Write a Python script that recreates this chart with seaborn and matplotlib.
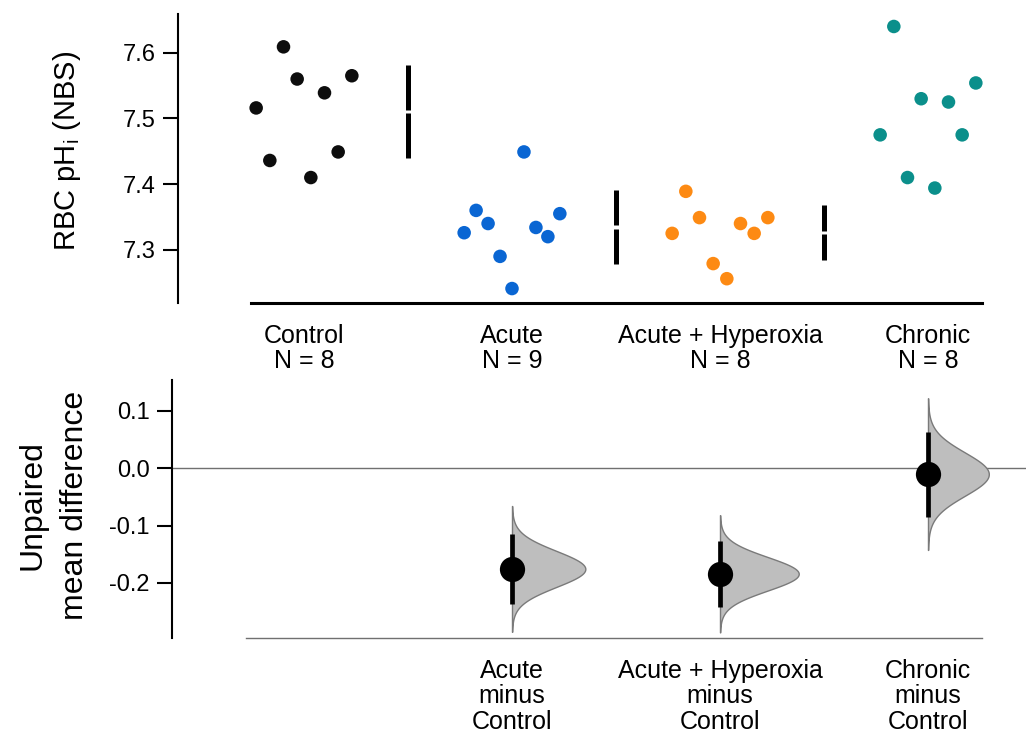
import numpy as np
import pandas as pd
import matplotlib
matplotlib.use("Agg")
import matplotlib.pyplot as plt
import seaborn as sns

# ---- data -------------------------------------------------------------
groups = ["Control", "Acute", "Acute + Hyperoxia", "Chronic"]
palette = ["#0d0d0d", "#0a66d3", "#fd8a13", "#0b8f8b"]

# RBC intracellular pH for each animal (listed in plotting order)
control = [7.516, 7.436, 7.609, 7.560, 7.410, 7.539, 7.449, 7.565]
acute = [7.326, 7.360, 7.340, 7.290, 7.241, 7.449, 7.334, 7.320, 7.355]
acute_hyperoxia = [7.325, 7.389, 7.349, 7.279, 7.256, 7.340, 7.325, 7.349]
chronic = [7.475, 7.640, 7.410, 7.530, 7.394, 7.525, 7.475, 7.554]

ph_ticks = [7.3, 7.4, 7.5, 7.6]
diff_ticks = [-0.2, -0.1, 0.0, 0.1]

series = [control, acute, acute_hyperoxia, chronic]

# ---- style ------------------------------------------------------------
sns.set_theme(style="white")
plt.rcParams["font.family"] = ["Liberation Sans", "DejaVu Sans"]
plt.rcParams["axes.unicode_minus"] = False
plt.rcParams["mathtext.default"] = "regular"
plt.rcParams["text.color"] = "black"
plt.rcParams["xtick.color"] = "black"
plt.rcParams["ytick.color"] = "black"

W, H = 1026, 740
fig = plt.figure(figsize=(W / 100, H / 100), dpi=100)

# axes placed in pixel terms of the figure
ax1 = fig.add_axes([178 / W, 1 - 303 / H, (W - 178) / W, (303 - 14) / H])
ax2 = fig.add_axes([172 / W, 1 - 638 / H, (W - 172) / W, (638 - 380) / H])

unit = 208.0  # pixels per category step
x0 = 304.0    # pixel position of the first category
ax1.set_xlim((178 - x0) / unit, (W - x0) / unit)
ax2.set_xlim((172 - x0) / unit, (W - x0) / unit)
ax1.set_ylim(7.219, 7.659)
ax2.set_ylim(-0.296, 0.154)

# ---- raw data swarm ---------------------------------------------------
rows = []
for i, (g, vals) in enumerate(zip(groups, series)):
    offs = np.linspace(-0.23, 0.23, len(vals))
    for o, v in zip(offs, vals):
        rows.append({"group": g, "x": i + o, "value": v})
raw = pd.DataFrame(rows)

sns.scatterplot(data=raw, x="x", y="value", hue="group", hue_order=groups,
                palette=palette, s=95, linewidth=0, legend=False, ax=ax1,
                zorder=3)

# mean +/- SD bars with a small gap at the mean
gap = 0.0028
for i, vals in enumerate(series):
    m = np.mean(vals)
    sd = np.std(vals, ddof=1)
    ax1.vlines([i + 0.5, i + 0.5], [m - sd, m + gap], [m - gap, m + sd],
               color="black", lw=3.6, clip_on=True)

# ---- effect sizes -----------------------------------------------------
ctrl_m = np.mean(control)
ctrl_v = np.var(control, ddof=1) / len(control)
eff_rows = []
k = 0.0277
for i in range(1, 4):
    vals = series[i]
    d = np.mean(vals) - ctrl_m
    se = np.sqrt(ctrl_v + np.var(vals, ddof=1) / len(vals))
    yy = np.linspace(d - 3.5 * se, d + 3.5 * se, 400)
    pdf = np.exp(-0.5 * ((yy - d) / se) ** 2) / (se * np.sqrt(2 * np.pi))
    ax2.fill_betweenx(yy, i, i + pdf * k, facecolor="#bebebe",
                      edgecolor="#7a7a7a", lw=1.0, zorder=2)
    ax2.vlines(i, d - 1.96 * se, d + 1.96 * se, color="black", lw=3.4,
               zorder=3)
    eff_rows.append({"x": i, "diff": d})
eff = pd.DataFrame(eff_rows)
sns.scatterplot(data=eff, x="x", y="diff", color="black", s=330,
                linewidth=0, legend=False, ax=ax2, zorder=4)

ax2.axhline(0, color="#707070", lw=1.0, zorder=1)

# ---- axes cosmetics ---------------------------------------------------
for ax in (ax1, ax2):
    ax.set_facecolor("none")
    ax.spines["top"].set_visible(False)
    ax.spines["right"].set_visible(False)
    ax.spines["left"].set_color("black")
    ax.spines["left"].set_linewidth(1.5)
    ax.set_xlabel("")
    ax.set_ylabel("")
    ax.tick_params(axis="y", length=11, width=1.5, pad=5, labelsize=17,
                   colors="black", left=True)
    ax.tick_params(axis="x", length=0, pad=15, labelsize=18, colors="black")

ax1.spines["bottom"].set_color("black")
ax1.spines["bottom"].set_linewidth(2.2)
ax1.spines["bottom"].set_bounds(-0.255, 3.26)
ax2.spines["bottom"].set_color("#707070")
ax2.spines["bottom"].set_linewidth(1.0)
ax2.spines["bottom"].set_bounds(-0.28, 3.26)

ax1.set_yticks(ph_ticks)
ax1.set_yticklabels([f"{t:.1f}" for t in ph_ticks])
ax2.set_yticks(diff_ticks)
ax2.set_yticklabels([f"{t:.1f}" for t in diff_ticks])

ax1.set_xticks(range(len(groups)))
ax1.set_xticklabels([f"{g}\nN = {len(v)}" for g, v in zip(groups, series)])
ax2.set_xticks(range(1, len(groups)))
ax2.set_xticklabels([f"{g}\nminus\n{groups[0]}" for g in groups[1:]])
for ax in (ax1, ax2):
    for t in ax.get_xticklabels():
        t.set_linespacing(1.08)

fig.text(67 / W, 1 - 151 / H, r"RBC pH$_{i}$ (NBS)", rotation=90,
         ha="center", va="center", fontsize=21, color="black")
fig.text(54 / W, 1 - 505 / H, "Unpaired\nmean difference", rotation=90,
         ha="center", va="center", fontsize=23, linespacing=1.55,
         multialignment="center", color="black")

fig.savefig("out.png", dpi=100)
